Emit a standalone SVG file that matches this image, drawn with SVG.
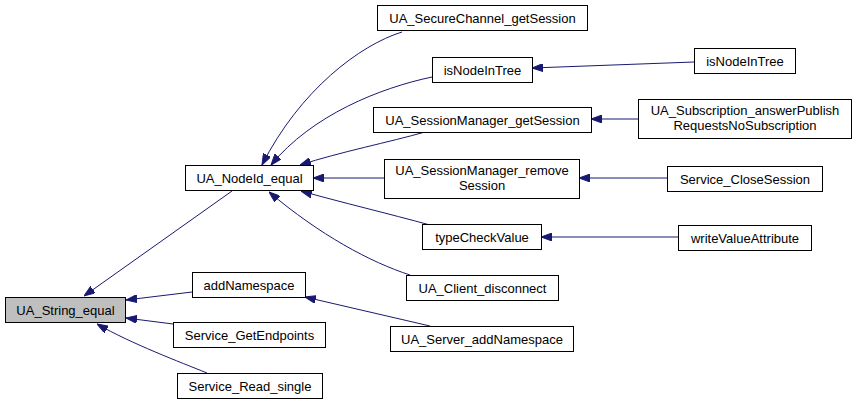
<svg xmlns="http://www.w3.org/2000/svg" width="856" height="404" viewBox="0 0 856 404">
<defs>
<style>
.box{fill:#ffffff;stroke:#000000;stroke-width:1}
.hl{fill:#bfbfbf}
text{font-family:"Liberation Sans",Arial,sans-serif;font-size:13px;fill:#000000;text-anchor:middle}
.e{fill:none;stroke:#191970;stroke-width:1;marker-end:url(#arr)}
</style>
<marker id="arr" markerUnits="userSpaceOnUse" markerWidth="11" markerHeight="8" viewBox="0 0 11 8" refX="11" refY="4" orient="auto">
<polygon points="0,0 11,4 0,8" fill="#191970" stroke="#191970" stroke-width="1"/>
</marker>
</defs>
<rect width="856" height="404" fill="#ffffff"/>
<g id="edges">
<path class="e" d="M232,191 L84,296"/>
<path class="e" d="M192,292 L126,300"/>
<path class="e" d="M173,324 L126,318"/>
<path class="e" d="M207,373 C180,362 132,344 97,324"/>
<path class="e" d="M402,32 C360,45 300,90 262,165"/>
<path class="e" d="M432,77 C380,88 312,115 271,165"/>
<path class="e" d="M425,132 C390,142 340,152 300,165"/>
<path class="e" d="M384,178 L313,178"/>
<path class="e" d="M430,225 C390,214 340,202 301,191"/>
<path class="e" d="M410,275 C370,262 320,235 269,192"/>
<path class="e" d="M430,326 L305,297"/>
<path class="e" d="M694,62 L532,68"/>
<path class="e" d="M638,119 L591,119"/>
<path class="e" d="M667,178 L579,178"/>
<path class="e" d="M678,237 L541,237"/>
</g>
<g id="UA_String_equal"><rect class="box hl" x="5.5" y="297.5" width="120" height="25"/><text x="65.5" y="314.5">UA_String_equal</text></g>
<g id="UA_NodeId_equal"><rect class="box" x="185.5" y="165.5" width="128" height="25"/><text x="249.5" y="182.5">UA_NodeId_equal</text></g>
<g id="addNamespace"><rect class="box" x="192.5" y="272.5" width="113" height="25"/><text x="249" y="289.5">addNamespace</text></g>
<g id="Service_GetEndpoints"><rect class="box" x="173.5" y="322.5" width="152" height="25"/><text x="249.5" y="339.5">Service_GetEndpoints</text></g>
<g id="Service_Read_single"><rect class="box" x="177.5" y="373.5" width="145" height="25"/><text x="250" y="390.5">Service_Read_single</text></g>
<g id="UA_SecureChannel_getSession"><rect class="box" x="377.5" y="5.5" width="210" height="25"/><text x="482.5" y="22.5">UA_SecureChannel_getSession</text></g>
<g id="isNodeInTree_1"><rect class="box" x="432.5" y="57.5" width="100" height="25"/><text x="482.5" y="74.5">isNodeInTree</text></g>
<g id="UA_SessionManager_getSession"><rect class="box" x="373.5" y="107.5" width="218" height="25"/><text x="482.5" y="124.5">UA_SessionManager_getSession</text></g>
<g id="UA_SessionManager_removeSession"><rect class="box" x="384.5" y="159.5" width="195" height="39"/><text x="482" y="175">UA_SessionManager_remove</text><text x="482" y="190">Session</text></g>
<g id="typeCheckValue"><rect class="box" x="422.5" y="224.5" width="119" height="25"/><text x="482" y="241.5">typeCheckValue</text></g>
<g id="UA_Client_disconnect"><rect class="box" x="406.5" y="275.5" width="152" height="25"/><text x="482.5" y="292.5">UA_Client_disconnect</text></g>
<g id="UA_Server_addNamespace"><rect class="box" x="390.5" y="326.5" width="183" height="25"/><text x="482" y="343.5">UA_Server_addNamespace</text></g>
<g id="isNodeInTree_2"><rect class="box" x="694.5" y="48.5" width="101" height="25"/><text x="745" y="65.5">isNodeInTree</text></g>
<g id="UA_Subscription_answerPublishRequestsNoSubscription"><rect class="box" x="638.5" y="99.5" width="213" height="39"/><text x="745" y="115">UA_Subscription_answerPublish</text><text x="745" y="130">RequestsNoSubscription</text></g>
<g id="Service_CloseSession"><rect class="box" x="667.5" y="166.5" width="155" height="25"/><text x="745" y="183.5">Service_CloseSession</text></g>
<g id="writeValueAttribute"><rect class="box" x="678.5" y="225.5" width="133" height="25"/><text x="745" y="242.5">writeValueAttribute</text></g>
</svg>
